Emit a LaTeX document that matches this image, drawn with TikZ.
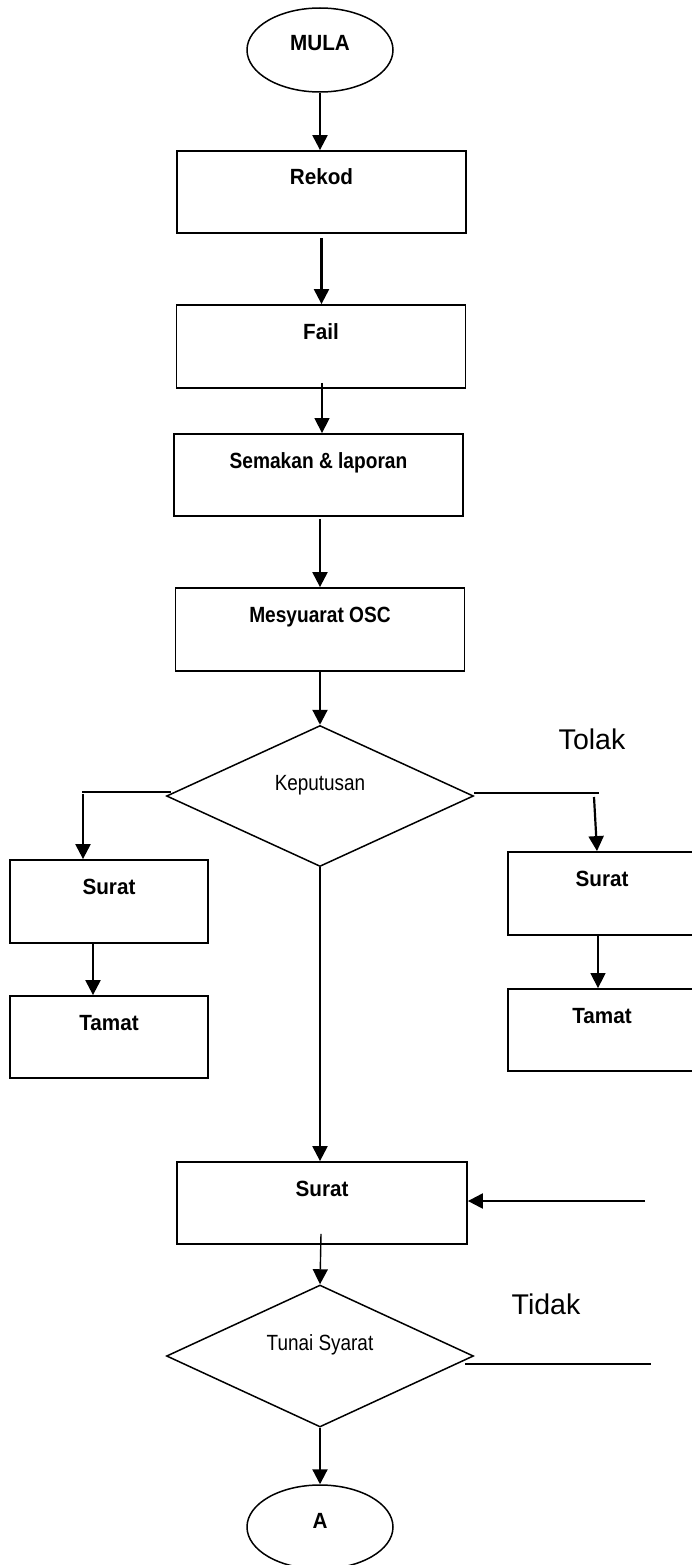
\documentclass[tikz,border=0pt]{standalone}
\usepackage{fontspec}
\setmainfont{Liberation Sans}
\newfontfamily\bxfont[FakeStretch=0.94]{Liberation Sans}
\newfontfamily\bxnfont[FakeStretch=0.87]{Liberation Sans}
\newfontfamily\dmfont[FakeStretch=0.86]{Liberation Sans}
\usetikzlibrary{shapes.geometric,arrows.meta}
\begin{document}
\begin{tikzpicture}[x=1pt,y=-1pt,
  box/.style={draw, line width=1.8pt, rectangle, inner sep=0pt,
    minimum width=289pt, minimum height=82pt, text height=16pt, text depth=30pt,
    font=\bxfont\bfseries\fontsize{22}{26}\selectfont},
  narrowbox/.style={box, font=\bxnfont\bfseries\fontsize{22}{26}\selectfont},
  ell/.style={draw, line width=1.5pt, ellipse, inner sep=0pt,
    minimum width=146pt, minimum height=84pt, text height=16pt, text depth=14pt,
    font=\bxfont\bfseries\fontsize{22}{26}\selectfont},
  dia/.style={draw, line width=1.5pt, diamond, inner sep=0pt,
    minimum width=307pt, minimum height=141pt, text height=10pt, text depth=22pt,
    font=\dmfont\fontsize{22}{26}\selectfont},
  lab/.style={inner sep=0pt, font=\fontsize{28.5}{32}\selectfont},
  arr/.style={line width=2.2pt, -{Triangle[length=15pt,width=15pt]}},
  tarr/.style={line width=1.4pt, -{Triangle[length=15pt,width=15pt]}},
  plain/.style={line width=2pt}
]
\useasboundingbox (0,0) rectangle (691,1565);

% nodes
\node[ell] (mula) at (320,50) {MULA};
\node[box] (rekod) at (321.5,192) {Rekod};
\node[box, minimum height=83pt] (fail) at (321,346.5) {Fail};
\node[narrowbox] (semakan) at (318.5,475) {Semakan \& laporan};
\node[narrowbox, minimum height=83pt] (mesy) at (320,629.5) {Mesyuarat OSC};
\node[dia] (kep) at (320,796) {Keputusan};
\node[box, minimum width=198pt, minimum height=83pt] (lsurat) at (109,901.5) {Surat};
\node[box, minimum width=198pt] (ltamat) at (109,1037) {Tamat};
\node[box, minimum width=188pt, minimum height=83pt] (rsurat) at (602,893.5) {Surat};
\node[box, minimum width=188pt] (rtamat) at (602,1030) {Tamat};
\node[box, minimum width=290pt] (bsurat) at (322,1203) {Surat};
\node[dia, minimum height=142pt] (tunai) at (320,1356) {Tunai Syarat};
\node[ell] (a) at (320,1527) {A};
\node[lab] (tolak) at (592,739) {Tolak};
\node[lab] (tidak) at (546,1304) {Tidak};

% free ends
\coordinate (kl) at (82,792);
\coordinate (kr) at (599,793);
\coordinate (rin) at (645,1201);
\coordinate (tr) at (651,1364);

% connectors
\draw[arr] (mula.south) -- (mula.south |- rekod.north);
\draw[arr] ([yshift=-4pt]rekod.south) -- (rekod.south |- fail.north);
\draw[tarr] ([xshift=1pt,yshift=6pt]fail.south) -- ([xshift=1pt]fail.south |- semakan.north);
\draw[arr] ([xshift=1.5pt,yshift=-2pt]semakan.south) -- ([xshift=1.5pt]semakan.south |- mesy.north);
\draw[arr] (mesy.south) -- (kep.north);
\draw[plain] ([xshift=5pt,yshift=4pt]kep.west) -- (kl);
\draw[arr] ([xshift=1pt,yshift=-2pt]kl) -- ([xshift=1pt]kl |- lsurat.north);
\draw[plain] ([yshift=3pt]kep.east) -- (kr);
\draw[arr] ([xshift=-5pt,yshift=-4pt]kr) -- ([xshift=-2pt]kr |- rsurat.north);
\draw[arr] ([xshift=-16pt,yshift=1pt]lsurat.south) -- ([xshift=-16pt]ltamat.north);
\draw[tarr] ([xshift=-4pt]rsurat.south) -- ([xshift=-4pt]rtamat.north);
\draw[arr] (kep.south) -- (kep.south |- bsurat.north);
\draw[arr] (rin) -- (bsurat.east |- rin);
\draw[tarr] ([xshift=-1pt,yshift=11pt]bsurat.south) -- (tunai.north);
\draw[plain] ([xshift=-9pt,yshift=-8pt]tunai.east) -- (tr);
\draw[arr] (tunai.south) -- (a.north);
\end{tikzpicture}
\end{document}
